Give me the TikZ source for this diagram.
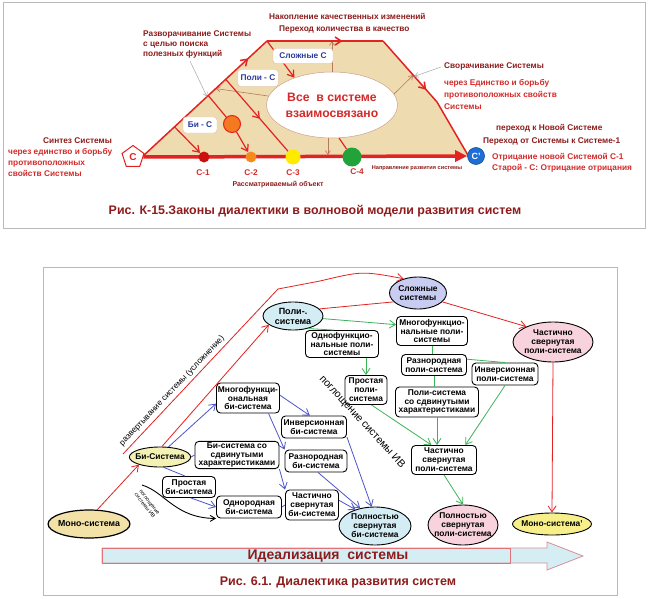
\documentclass[tikz,border=0pt]{standalone}
\usepackage{fontspec}
\setmainfont{Liberation Sans}
\usetikzlibrary{arrows.meta,shapes.geometric,decorations.markings,backgrounds,calc}
\definecolor{dred}{HTML}{8E1C1C}
\definecolor{bred}{HTML}{D42A2A}
\definecolor{lred}{HTML}{E32222}
\definecolor{beige}{HTML}{EFDBB0}
\definecolor{brn}{HTML}{B8785A}
\definecolor{cblue}{HTML}{1F6ED6}
\definecolor{tblue}{HTML}{2B3A9A}
\definecolor{cone}{HTML}{CC1010}
\definecolor{ctwo}{HTML}{F58A20}
\definecolor{cthree}{HTML}{FFEA00}
\definecolor{cfour}{HTML}{22A33A}
\definecolor{corg}{HTML}{F47A20}
\definecolor{gline}{HTML}{3DB35A}
\definecolor{bline}{HTML}{4B55C8}
\definecolor{fmono}{HTML}{F3E2A8}
\definecolor{fbi}{HTML}{F4F1B4}
\definecolor{fpoli}{HTML}{D4EDF4}
\definecolor{fsl}{HTML}{C9CCF1}
\definecolor{fpink}{HTML}{F8D3DE}
\definecolor{fmtwo}{HTML}{F7F08A}
\definecolor{idfill}{HTML}{D5EEF4}
\definecolor{idline}{HTML}{D89098}
\newcommand\fsz[2]{\fontsize{#1}{#2}\selectfont}
\pgfdeclarelayer{bg}
\pgfsetlayers{bg,main}
\tikzset{
  barb/.style={-{Straight Barb[length=6pt,width=8pt]}},
  sbarb/.style={-{Straight Barb[length=4pt,width=5pt]}},
  midarr/.style={postaction={decorate},decoration={markings,mark=at position #1 with {\arrow{Straight Barb[length=6pt,width=8pt]}}}},
  lbox/.style={draw=brn!50, fill=white, rounded corners=3pt, text=tblue, font=\fsz{8.3}{9}\bfseries, inner xsep=3pt, minimum height=15},
  tdark/.style={text=dred, font=\fsz{8.3}{9.5}\bfseries, inner sep=0pt, anchor=base west},
  tred/.style={text=bred, font=\fsz{8.3}{9.5}\bfseries, inner sep=0pt, anchor=base west},
  box/.style={draw, line width=0.9pt, rounded corners=4pt, fill=white, align=center, inner sep=1pt, font=\fsz{8.4}{8.9}\bfseries},
  ell/.style={ellipse, draw, line width=0.9pt, align=center, inner sep=0pt, font=\fsz{8.4}{9}\bfseries},
  rl/.style={draw=lred, line width=0.8pt},
  gl/.style={draw=gline, line width=0.8pt},
  bl/.style={draw=bline, line width=0.8pt},
}
\begin{document}
\begin{tikzpicture}[x=1pt,y=-1pt,font=\fsz{8}{9.5}\bfseries]
\useasboundingbox (0,0) rectangle (650,599);
\fill[white] (0,0) rectangle (650,599);

% ================= TOP PANEL =================
\draw[gray!55, line width=1pt] (3,3) rectangle (645,228);
\coordinate (A) at (142,157);
\coordinate (B) at (267,41);
\coordinate (Cc) at (383,41);
\coordinate (D) at (437,102);
\coordinate (F) at (469,157);
\fill[beige] (A) -- (B) -- (Cc) -- (D) -- (F) -- cycle;

\node[ellipse, draw=brn!70, fill=white, line width=0.5pt, minimum width=120, minimum height=66, inner sep=0, align=center, text=bred, font=\fsz{12.2}{16}\bfseries] (E) at (332,105) {Все\ \ в системе\\взаимосвязано};

\draw[brn, line width=0.6pt, sbarb] (E.172) -- ($(A)!0.59!(B)$);
\draw[brn, line width=0.6pt, sbarb] (E.north) -- (E.north |- B);
\draw[brn, line width=0.6pt, sbarb] (E.-97) -- ($(E.-97 |- A)+(0,-2)$);
\draw[brn, line width=0.6pt, sbarb] (E.10) -- ($(Cc)!0.56!(D)$);

\draw[lred, line width=1.5pt, midarr=0.85] (A) -- (B);
\draw[lred, line width=1.5pt, midarr=0.65] (B) -- (Cc);
\draw[lred, line width=1.5pt, midarr=0.8] (Cc) -- (D);
\draw[lred, line width=1.5pt] (D) -- (F);

\node[regular polygon, regular polygon sides=5, draw=lred, fill=white, line width=1pt, minimum size=23, inner sep=0, text=lred, font=\fsz{10}{11}\bfseries] (S) at (133,157) {C};
\node[circle, fill=cblue, draw=cblue!70!black, line width=0.6pt, text=white, minimum size=17, inner sep=0, font=\fsz{9}{10}\bfseries] (Cp) at (476,156) {C'};
\draw[lred, line width=3.5pt, -{Triangle[length=12pt,width=11pt]}] (S.east) -- (Cp.west);

\node[circle, fill=cone, minimum size=11, inner sep=0] (C1) at (204,157) {};
\node[circle, fill=ctwo, minimum size=11, inner sep=0] (C2) at (251,157) {};
\node[circle, fill=cthree, minimum size=15, inner sep=0] (C3) at (293,157) {};
\node[circle, fill=cfour, minimum size=19, inner sep=0] (C4) at (352,157) {};
\node[circle, fill=corg, draw=lred, line width=1pt, minimum size=17, inner sep=0] (O) at (232,124) {};

\draw[lred, line width=1.2pt, barb] ($(A)!0.26!(B)$) -- (C1);
\draw[lred, line width=1.2pt] ($(A)!0.53!(B)$) -- (O);
\draw[lred, line width=1.2pt, barb] (O) -- (C2);
\draw[lred, line width=1.2pt, midarr=0.55] ($(A)!0.67!(B)$) -- (C3);
\draw[lred, line width=1.2pt, barb] (B) -- (E.144);
\draw[lred, line width=1.2pt] (E.-78) -- (C4);

\node[lbox, minimum width=60] (Ls) at (303,56) {Сложные С};
\node[lbox, minimum width=40, minimum height=17] (Lp) at (258,78) {Поли - С};
\node[lbox, minimum width=34, minimum height=16] (Lb) at (200,125) {Би - С};

\coordinate (p1) at (190,61);
\coordinate (p2) at (441,67);
\draw[gray!70, line width=0.5pt, sbarb] (p1) -- ($(A)!0.52!(B)$);
\draw[gray!70, line width=0.5pt, sbarb] (p2) -- ($(Cc)!0.58!(D)$);

\node[tdark] (t1) at (143,36.5) {Разворачивание Системы};
\node[tdark] (t2) at (143,46.5) {с целью поиска};
\node[tdark] (t3) at (143,56.5) {полезных функций};
\node[tdark] (t4) at (269,20) {Накопление качественных изменений};
\node[tdark] (t5) at (279,32) {Переход количества в качество};
\node[tdark] (t6) at (444,69) {Сворачивание Системы};
\node[tred] (t7) at (444,86) {через Единство и борьбу};
\node[tred] (t8) at (444,98) {противоположных свойств};
\node[tred] (t9) at (444,109.5) {Системы};
\node[tdark] (t10) at (496,131) {переход к Новой Системе};
\node[tdark] (t11) at (483,143) {Переход от Системы к Системе-1};
\node[tred] (t12) at (492,159) {Отрицание новой Системой С-1};
\node[tred] (t13) at (492,170.5) {Старой - С: Отрицание отрицания};
\node[tdark] (t14) at (43,143) {Синтез Системы};
\node[tred] (t15) at (8,154) {через единство и борьбу};
\node[tred] (t16) at (8,165) {противоположных};
\node[tred] (t17) at (8,176) {свойств Системы};
\node[tred, anchor=center] (l1) at (203,173) {С-1};
\node[tred, anchor=center] (l2) at (251,173) {С-2};
\node[tred, anchor=center] (l3) at (293,173) {С-3};
\node[tred, anchor=center] (l4) at (357,172) {С-4};
\node[text=dred, font=\fsz{7}{8}\bfseries, inner sep=0] (t18) at (278,185) {Рассматриваемый объект};
\node[text=dred, font=\fsz{5.6}{6}\bfseries, inner sep=0] (t19) at (417,168) {Направление развития системы};
\node[text=dred, font=\fsz{12.4}{14}\bfseries, inner sep=0] (cap1) at (315,211) {Рис. К-15.Законы диалектики в волновой модели развития систем};

% ================= BOTTOM PANEL =================
\draw[gray!55, line width=1pt] (43,267) rectangle (617,595);

\draw[idline, fill=idfill, line width=0.8pt] (102,548) -- (547,548) -- (547,542) -- (583,556) -- (547,570) -- (547,563) -- (102,563) -- cycle;
\draw[idline!80!red, line width=0.8pt] (102,548) rectangle (510,563);
\node[text=dred, font=\fsz{14}{16}\bfseries, inner sep=0] (ideal) at (328,556) {Идеализация\ \ системы};
\node[text=dred, font=\fsz{12.5}{14}\bfseries, inner sep=0] (cap2) at (338,582) {Рис. 6.1. Диалектика развития систем};

% ellipses
\node[ell, fill=fmono, line width=1.2pt, minimum width=72, minimum height=28, inner xsep=-2pt, font=\fsz{8.8}{9.5}\bfseries] (mono) at (89,524) {Моно-система};
\node[ell, fill=fbi, minimum width=60, minimum height=20, inner xsep=-3pt, font=\fsz{8.4}{9}\bfseries] (bi) at (160,457) {Би-Система};
\node[ell, fill=fpoli, minimum width=60, minimum height=28, inner xsep=-2pt, font=\fsz{9}{10}\bfseries] (poli) at (293,316) {Поли-.\\система};
\node[ell, fill=fsl, minimum width=57, minimum height=32, inner xsep=-3pt] (slozh) at (418,293) {Сложные\\системы};
\node[ell, fill=fpink, minimum width=80, minimum height=40, inner xsep=-5pt, inner ysep=-3pt] (chpe) at (553,342) {Частично\\свернутая\\поли-система};
\node[ell, fill=fpoli, minimum width=72, minimum height=38, inner xsep=-4pt, inner ysep=-3pt] (polnb) at (375,526) {Полностью\\свернутая\\би-система};
\node[ell, fill=fpink, minimum width=70, minimum height=40, inner xsep=-6pt, inner ysep=-3pt] (polnp) at (463,525) {Полностью\\свернутая\\поли-система};
\node[ell, fill=fmtwo, minimum width=79, minimum height=22, inner xsep=-5pt] (mono2) at (552,524) {Моно-система'};

% boxes
\node[box, minimum width=63, minimum height=30] (mfb) at (248,398) {Многофункци-\\ональная\\би-система};
\node[box, minimum width=65, minimum height=22] (invb) at (314,427) {Инверсионная\\би-система};
\node[box, minimum width=84, minimum height=27] (sdvb) at (237,455) {Би-система со\\сдвинутыми\\характеристиками};
\node[box, minimum width=62, minimum height=22] (raznb) at (316,461) {Разнородная\\би-система};
\node[box, minimum width=53, minimum height=21] (prb) at (189,487) {Простая\\би-система};
\node[box, minimum width=65, minimum height=22] (odnb) at (249,507) {Однородная\\би-система};
\node[box, minimum width=53, minimum height=30] (chb) at (312,505) {Частично\\свернутая\\би-система};
\node[box, minimum width=73, minimum height=27] (odnp) at (342,344) {Однофункцио-\\нальные поли-\\системы};
\node[box, minimum width=71, minimum height=29] (mfp) at (432,331) {Многофункцио-\\нальные поли-\\системы};
\node[box, minimum width=42, minimum height=29] (prp) at (366,390) {Простая\\поли-\\система};
\node[box, minimum width=65, minimum height=21] (raznp) at (434,365) {Разнородная\\поли-система};
\node[box, minimum width=66, minimum height=22] (invp) at (505,374) {Инверсионная\\поли-система};
\node[box, minimum width=83, minimum height=30] (sdvp) at (437,402) {Поли-система\\со сдвинутыми\\характеристиками};
\node[box, minimum width=65, minimum height=29] (chp) at (444,460) {Частично\\свернутая\\поли-система};

% black connectors
\coordinate (pg0) at (290,342);
\coordinate (ps0) at (142,485);
\begin{pgfonlayer}{bg}
\draw[line width=3pt, -{Triangle[length=9pt,width=9pt]}] (mono.east) -- (611,524) coordinate (endx);
\draw[line width=0.9pt, -{Straight Barb[length=6pt,width=8pt]}] (pg0) .. controls (331,406) and (381,461) .. (polnp.140);
\end{pgfonlayer}
\draw[line width=0.9pt, -{Straight Barb[length=5pt,width=6pt]}] (ps0) .. controls (165,492) and (175,518) .. (odnb.south west);
\node[rotate=-47.5, font=\fsz{10.5}{12}\mdseries, inner sep=0] (tp) at (362,422) {поглощение системы ИВ};
\node[rotate=-52, align=center, font=\fsz{5.3}{5.8}\mdseries, inner sep=0] (ts) at (147,504) {поглощение\\системы ИВ};

% red connectors
\coordinate (r0) at (123,454);
\coordinate (r1) at (278,289);
\coordinate (r2) at (320,281);
\draw[rl, barb] (r0) -- (r1) -- (r2) .. controls (362,271) .. (slozh.135);
\node[rotate=46.5, font=\fsz{8.3}{9}\mdseries, inner sep=0] (tr) at (172,391) {развертывание системы (усложнение)};
\draw[rl, barb] (mono.60) -- (bi.200);
\draw[rl, barb] (bi.80) -- (poli.200);
\draw[rl] (poli.15) -- (slozh.200);
\draw[rl, barb] (slozh.-20) -- (chpe.150);
\draw[rl, barb] (chpe.south) -- (mono2.north);

% green connectors
\draw[gl, barb] (poli.-5) -- (mfp.170);
\draw[gl] (poli.-40) -- (odnp.120);
\draw[gl, barb] (prp.north |- odnp.south) -- (prp.north);
\draw[gl] (mfp.south) -- (mfp.south |- raznp.north);
\draw[gl] (raznp.south) -- (raznp.south |- sdvp.north);
\draw[gl] (raznp.10) -- (invp.north);
\draw[gl, barb] (prp.-70) -- (chp.130);
\draw[gl, barb] (sdvp.south) -- (sdvp.south |- chp.north);
\draw[gl, barb] (invp.south) -- (chp.35);
\draw[gl, barb] (chp.south) -- (polnp.north);

% blue connectors
\draw[bl, barb] (bi.50) -- (mfb.190);
\draw[bl] (bi.east) -- (sdvb.west);
\draw[bl] (bi.-70) -- (prb.110);
\draw[bl, barb] (prb.-80) -- (odnb.west);
\draw[bl, barb] (mfb.5) -- (invb.110);
\draw[bl, barb] (mfb.-37) -- (raznb.160);
\draw[bl, barb] (sdvb.south east) -- (chb.north west);
\draw[bl] (odnb.east) -- (chb.west);
\draw[bl, barb] (invb.-17) -- (polnb.100);
\draw[bl, barb] (raznb.-80) -- (polnb.130);
\draw[bl, barb] (chb.10) -- (polnb.140);
\end{tikzpicture}
\end{document}
